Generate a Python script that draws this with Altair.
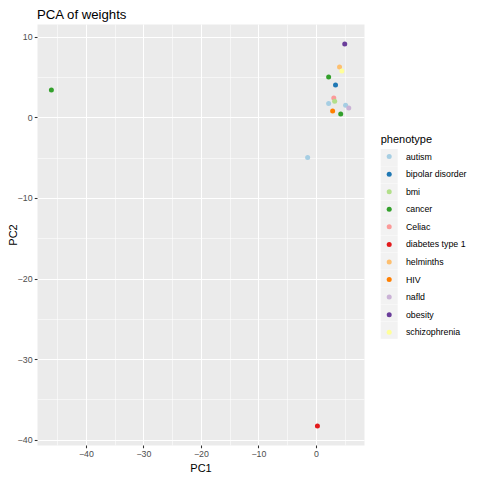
import altair as alt
import pandas as pd

# categorias de la leyenda (orden de ggplot) y paleta "Paired"
phenotypes = ["autism", "bipolar disorder", "bmi", "cancer", "Celiac", "diabetes type 1",
              "helminths", "HIV", "nafld", "obesity", "schizophrenia"]
palette = ["#A6CEE3", "#1F78B4", "#B2DF8A", "#33A02C", "#FB9A99", "#E31A1C",
           "#FDBF6F", "#FF7F00", "#CAB2D6", "#6A3D9A", "#FFFF99"]

# puntos
point_phenotype = ["obesity", "helminths", "schizophrenia", "cancer", "bipolar disorder",
                   "Celiac", "bmi", "autism", "autism", "nafld", "HIV", "cancer",
                   "autism", "cancer", "diabetes type 1"]
pc1 = [5.0, 4.1, 4.5, 2.2, 3.4, 3.1, 3.25, 2.2, 5.15, 5.7, 2.9, 4.3, -1.45, -46.0, 0.25]
pc2 = [9.1, 6.24, 5.74, 5.0, 4.0, 2.4, 2.0, 1.7, 1.5, 1.15, 0.8, 0.4, -5.0, 3.4, -38.3]

x_major = [-40, -30, -20, -10, 0]
x_minor = [-45, -35, -25, -15, -5, 5]
y_major = [10, 0, -10, -20, -30, -40]
y_minor = [5, -5, -15, -25, -35]

df = pd.DataFrame({"PC1": pc1, "PC2": pc2, "phenotype": point_phenotype})
df["key"] = df["phenotype"]

FONT = "Liberation Sans"
x_scale = alt.Scale(domain=[-48.5, 8.35], nice=False, zero=False)
y_scale = alt.Scale(domain=[-40.66, 11.58], nice=False, zero=False)

legend_common = dict(
    orient="none", legendX=343.7, legendY=110, title="phenotype",
    titleFont=FONT, titleFontSize=11, titleFontWeight="normal", titleColor="black",
    labelFont=FONT, labelFontSize=8.8, labelColor="black", padding=0, symbolOpacity=1,
    symbolStrokeWidth=0,
)

# puntos con los ejes principales
points = alt.Chart(df).mark_circle(size=25, opacity=1).encode(
    x=alt.X("PC1:Q", scale=x_scale,
            axis=alt.Axis(orient="bottom", values=x_major, grid=True, title="PC1",
                          titleX=163.5, titleY=26.5, titleBaseline="alphabetic")),
    y=alt.Y("PC2:Q", scale=y_scale,
            axis=alt.Axis(orient="left", values=y_major, grid=True, title="PC2",
                          titleX=-20.8, titleY=210.5, titleBaseline="alphabetic")),
    color=alt.Color("phenotype:N", scale=alt.Scale(domain=phenotypes, range=palette),
                    legend=alt.Legend(symbolType="circle", symbolSize=25, symbolOffset=4.1,
                                      labelOffset=12.3, rowPadding=7.56, titlePadding=7.2,
                                      zindex=1, **legend_common)),
)

# capa invisible: rejilla menor y fondo gris de las claves de la leyenda
keys = alt.Chart(df).mark_square(opacity=0).encode(
    x=alt.X("PC1:Q", scale=x_scale,
            axis=alt.Axis(values=x_minor, grid=True, gridWidth=0.55, labels=False,
                          ticks=False, title=None)),
    y=alt.Y("PC2:Q", scale=y_scale,
            axis=alt.Axis(values=y_minor, grid=True, gridWidth=0.55, labels=False,
                          ticks=False, title=None)),
    fill=alt.Fill("key:N", sort=phenotypes,
                  scale=alt.Scale(range=["#F2F2F2"] * len(phenotypes)),
                  legend=alt.Legend(symbolType="square", symbolSize=289, labelOffset=6.6,
                                    rowPadding=0.28, titlePadding=4,
                                    titleOpacity=0, labelOpacity=0, zindex=0, **legend_common)),
)

chart = alt.layer(points, keys).resolve_axis(
    x="independent", y="independent"
).properties(
    width=327,
    height=421,
    padding={"left": 29, "top": 16, "right": 108, "bottom": 27},
    autosize=alt.AutoSizeParams(type="none"),
    title=alt.TitleParams("PCA of weights", anchor="start", frame="group", font=FONT,
                          fontSize=13.2, fontWeight="normal", color="black", offset=2),
).configure_view(
    fill="#EBEBEB", stroke="transparent"
).configure_axis(
    domain=False, gridColor="white", gridWidth=1.07,
    labelFont=FONT, labelFontSize=8.8, labelColor="#4D4D4D", labelPadding=2.2,
    tickColor="#333333", tickSize=2.75, tickWidth=1.07,
    titleFont=FONT, titleFontSize=11, titleFontWeight="normal", titleColor="black",
)

chart.save("out.html", embed_options={"renderer": "svg", "actions": False})
